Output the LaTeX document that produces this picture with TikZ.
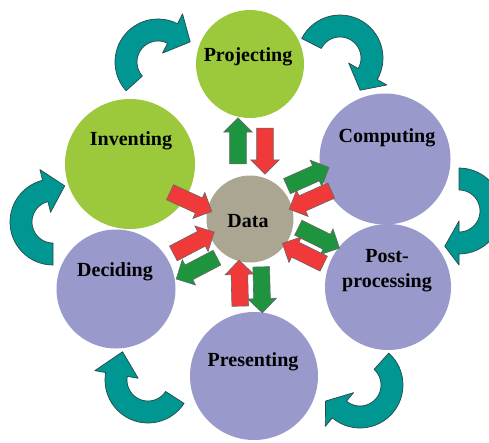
\documentclass[tikz,border=0pt]{standalone}
\usepackage{fontspec}
\setmainfont{Liberation Serif}
\usetikzlibrary{calc,shapes.arrows}
\definecolor{leaf}{RGB}{155,201,59}
\definecolor{lilac}{RGB}{153,153,204}
\definecolor{stone}{RGB}{171,166,145}
\definecolor{tealfill}{RGB}{0,150,146}
\definecolor{tealline}{RGB}{40,72,72}
\definecolor{outgreen}{RGB}{30,148,62}
\definecolor{inred}{RGB}{240,58,58}
\tikzset{%
  ball/.style={circle,inner sep=0pt,draw=none},
  lab/.style={font=\bfseries\fontsize{20}{25}\selectfont,inner sep=0pt,anchor=base},
  blockarr/.style={single arrow,single arrow head extend=6pt,inner xsep=0pt,inner ysep=8pt,
    minimum height=46pt,draw=black!60,line width=.6pt},
  outarr/.style={blockarr,fill=outgreen},
  inarr/.style={blockarr,fill=inred},
  turn/.style={fill=tealfill,draw=tealline,line width=.7pt,line join=round}
}
% block arrow between data and a node: style, node, distance, side shift, turn
\newcommand\spoke[5]{%
  \path let \p1=($(#2)-(data)$), \n1={atan2(\y1,\x1)+#5} in
    ($(data)!#3!(#2)!#4!90:(#2)$) node[#1,rotate=\n1] {};
}
% curved arrow of the ring: centre x, centre y, tail, head base, tip
\newcommand\turnarrow[5]{%
  \filldraw[turn] plot[domain=#3:#4,samples=30] ({#1+43*cos(\x)},{#2+43*sin(\x)})
    -- ({#1+54*cos(#4)},{#2+54*sin(#4)})
    -- ({#1+38*cos(#5)},{#2+38*sin(#5)})
    -- ({#1+10*cos(#4)},{#2+10*sin(#4)})
    -- plot[domain=#4:#3,samples=30] ({#1+21*cos(\x)},{#2+21*sin(\x)}) -- cycle;
}

\begin{document}
\begin{tikzpicture}[x=1pt,y=-1pt]
  \clip (0,0) rectangle (489,442);
  % circles
  \node[ball,fill=leaf,minimum size=108pt] (proj) at (250,64) {};
  \node[ball,fill=leaf,minimum size=130pt] (invent) at (130,164) {};
  \node[ball,fill=lilac,minimum size=131pt] (comp) at (385,159) {};
  \node[ball,fill=lilac,minimum size=126pt] (post) at (388,287) {};
  \node[ball,fill=lilac,minimum size=128pt] (pres) at (254,376) {};
  \node[ball,fill=lilac,minimum size=119pt] (decide) at (116,289) {};
  \node[ball,fill=stone,minimum size=87pt] (data) at (250,219) {};
  % labels
  \node[lab] (projtxt) at (248,61.5) {Projecting};
  \node[lab] (inventtxt) at (131,145) {Inventing};
  \node[lab] (comptxt) at (387,142.5) {Computing};
  \node[lab,align=center,anchor=center] (posttxt) at (387,271) {Post-\\processing};
  \node[lab] (prestxt) at (253,366.5) {Presenting};
  \node[lab] (decidetxt) at (115,276) {Deciding};
  \node[lab] (datatxt) at (248,227.5) {Data};
  % data flows
  \spoke{outarr}{proj}{74pt}{12pt}{0}
  \spoke{inarr}{proj}{72pt}{-15pt}{180}
  \spoke{inarr}{invent}{65pt}{9pt}{180}
  \spoke{outarr}{comp}{66pt}{15pt}{0}
  \spoke{inarr}{comp}{67pt}{-7pt}{180}
  \spoke{outarr}{post}{66pt}{13.5pt}{0}
  \spoke{inarr}{post}{67pt}{-7.5pt}{180}
  \spoke{outarr}{pres}{67pt}{10pt}{0}
  \spoke{inarr}{pres}{68pt}{-12pt}{180}
  \spoke{outarr}{decide}{66pt}{19pt}{0}
  \spoke{inarr}{decide}{65pt}{-5pt}{180}
  % ring
  \turnarrow{158}{62}{138}{297}{328}
  \turnarrow{340}{58}{207}{390}{418}
  \turnarrow{459}{211}{270}{450}{472}
  \turnarrow{360}{385}{312}{490}{515}
  \turnarrow{148}{380}{33}{190}{228}
  \turnarrow{53}{222}{90}{256}{288}
\end{tikzpicture}
\end{document}
